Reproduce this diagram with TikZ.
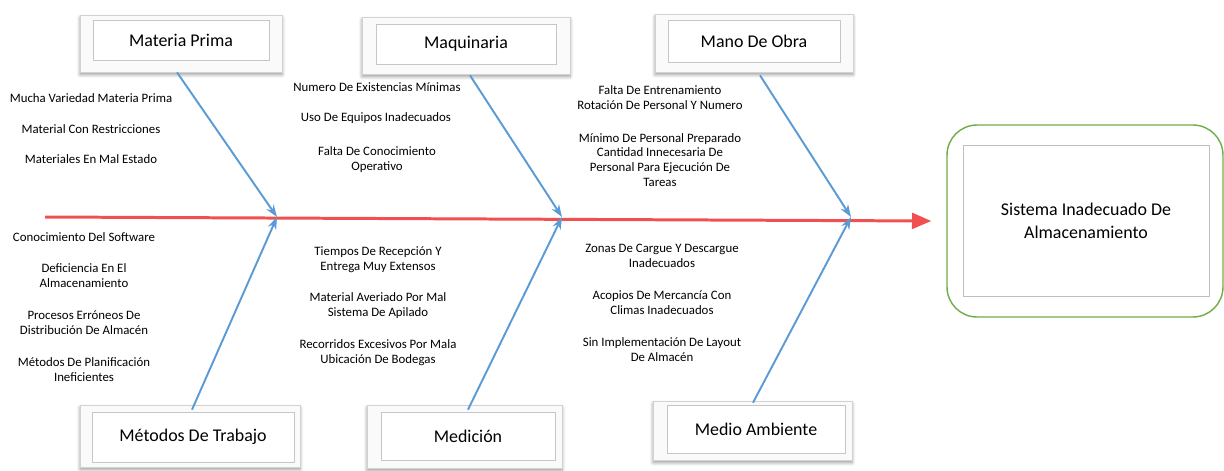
\documentclass[tikz,border=0pt]{standalone}
\usepackage{fontspec}
\setmainfont{Carlito}
\usetikzlibrary{arrows.meta}
\usetikzlibrary{shadows.blur}
\definecolor{espina}{RGB}{240,80,80}
\definecolor{azulrama}{RGB}{91,155,213}
\definecolor{verde}{RGB}{112,173,71}

\tikzset{
  causa/.style={draw=gray!45, fill=white, inner sep=0pt, font=\fontsize{10.2}{12}\selectfont},
  marco/.style={draw=gray!35, fill=gray!4, blur shadow={shadow xshift=0pt, shadow yshift=-1.5pt, shadow blur steps=6}},
  item/.style={align=center, font=\fontsize{7.3}{8.5}\selectfont},
  flecha/.style={draw=azulrama, line width=1.1pt, -{Stealth[length=7pt,width=5pt]}},
}

\begin{document}
\begin{tikzpicture}[x=0.02cm, y=-0.02cm]
    \useasboundingbox (0,0) rectangle (1224,470);
    % marcos de las causas
    \draw[marco] (80,15) rectangle (282,72);
    \draw[marco] (362,17) rectangle (570,74);
    \draw[marco] (655,14) rectangle (853,72);
    \draw[marco] (80,405) rectangle (300,467);
    \draw[marco] (367,405) rectangle (562,468);
    \draw[marco] (653,401) rectangle (852,460);
    % causas
    \node[causa, minimum width=3.52cm, minimum height=0.8cm] (mp) at (181,40) {Materia Prima};
    \node[causa, minimum width=3.6cm, minimum height=0.8cm] (maq) at (466,44) {Maquinaria};
    \node[causa, minimum width=3.44cm, minimum height=0.84cm] (mo) at (754,41) {Mano De Obra};
    \node[causa, minimum width=4.04cm, minimum height=1cm] (met) at (193,437) {Métodos De Trabajo};
    \node[causa, minimum width=3.48cm, minimum height=0.96cm] (med) at (468,436) {Medición};
    \node[causa, minimum width=3.56cm, minimum height=0.96cm] (ma) at (756,429) {Medio Ambiente};
    % efecto
    \node[draw=verde, line width=0.8pt, rounded corners=0.6cm, minimum width=5.52cm, minimum height=3.84cm] (efecto) at (1085,221) {};
    \node[draw=gray!50, minimum width=4.92cm, minimum height=3.02cm, align=center, font=\fontsize{10.2}{13.2}\selectfont] (sist) at (1086,220.5) {Sistema Inadecuado De\\Almacenamiento};
    % espina central
    \coordinate (cola) at (45,217);
    \coordinate (j1) at (277,217);
    \coordinate (j2) at (562,217);
    \coordinate (j3) at (851,217);
    \draw[espina, line width=1.7pt, -{Triangle[length=11pt,width=9pt]}] (cola) -- ([xshift=-0.3cm]efecto.west);
    % ramas
    \draw[flecha] ([shift={(-4,12)}]mp.south) -- (j1);
    \draw[flecha] ([shift={(4,11)}]maq.south) -- (j2);
    \draw[flecha] ([shift={(6,13)}]mo.south) -- (j3);
    \draw[flecha] ([shift={(-1,-2)}]met.north) -- (j1);
    \draw[flecha] ([shift={(0,-2)}]med.north) -- (j2);
    \draw[flecha] ([shift={(-3,-2)}]ma.north) -- (j3);
    % subcausas
    \node[item] (mp1) at (91,98) {Mucha Variedad Materia Prima};
    \node[item] (mp2) at (91,129) {Material Con Restricciones};
    \node[item] (mp3) at (91,159) {Materiales En Mal Estado};
    \node[item] (met1) at (84,237) {Conocimiento Del Software};
    \node[item] (met2) at (84,275.5) {Deficiencia En El\\Almacenamiento};
    \node[item] (met3) at (84,322.5) {Procesos Erróneos De\\Distribución De Almacén};
    \node[item] (met4) at (84,369.5) {Métodos De Planificación\\Ineficientes};
    \node[item] (maq1) at (377,87) {Numero De Existencias Mínimas};
    \node[item] (maq2) at (376,118) {Uso De Equipos Inadecuados};
    \node[item] (maq3) at (377,159.5) {Falta De Conocimiento\\Operativo};
    \node[item] (med1) at (378,259.5) {Tiempos De Recepción Y\\Entrega Muy Extensos};
    \node[item] (med2) at (378,305.5) {Material Averiado Por Mal\\Sistema De Apilado};
    \node[item] (med3) at (378,352.5) {Recorridos Excesivos Por Mala\\Ubicación De Bodegas};
    \node[item] (mo1) at (660,97.5) {Falta De Entrenamiento\\Rotación De Personal Y Numero};
    \node[item] (mo2) at (660,160) {Mínimo De Personal Preparado\\Cantidad Innecesaria De\\Personal Para Ejecución De\\Tareas};
    \node[item] (ma1) at (662,255.5) {Zonas De Cargue Y Descargue\\Inadecuados};
    \node[item] (ma2) at (662,302.5) {Acopios De Mercancía Con\\Climas Inadecuados};
    \node[item] (ma3) at (662,349.5) {Sin Implementación De Layout\\De Almacén};
\end{tikzpicture}
\end{document}
